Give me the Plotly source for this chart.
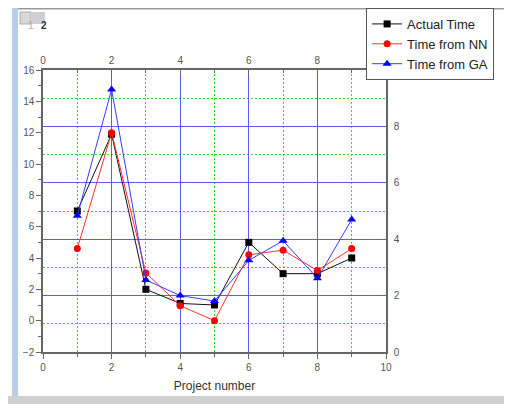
import plotly.graph_objects as go

projects = [1, 2, 3, 4, 5, 6, 7, 8, 9]
actual_time = [7.0, 11.9, 2.0, 1.1, 1.0, 5.0, 3.0, 3.0, 4.0]
time_nn = [4.6, 12.0, 3.05, 0.95, 0.0, 4.2, 4.5, 3.2, 4.6]
time_ga = [6.7, 14.75, 2.6, 1.6, 1.25, 3.85, 5.1, 2.7, 6.45]

FONT = "Liberation Sans, Arial, sans-serif"
AX = "#666666"
BLUE_GRID = "#5a5aff"
GREEN_GRID = "#22e022"
tickfont = dict(family=FONT, size=10, color="#555555")

fig = go.Figure()
fig.add_trace(go.Scatter(x=projects, y=actual_time, name="Actual Time", mode="lines+markers",
                         line=dict(color="#111111", width=1),
                         marker=dict(symbol="square", size=7, color="#000000")))
fig.add_trace(go.Scatter(x=projects, y=time_nn, name="Time from NN", mode="lines+markers",
                         line=dict(color="#ff3030", width=1),
                         marker=dict(symbol="circle", size=7, color="#ff0000")))
fig.add_trace(go.Scatter(x=projects, y=time_ga, name="Time from GA", mode="lines+markers",
                         line=dict(color="#3a3aff", width=1),
                         marker=dict(symbol="triangle-up", size=8, color="#0000ff")))
fig.add_trace(go.Scatter(x=[0], y=[0], xaxis="x2", yaxis="y2", mode="markers",
                         marker=dict(opacity=0), showlegend=False, hoverinfo="skip"))

odd = [1, 3, 5, 7, 9]
# page has an 8px body margin, so the figure is 504x396 offset by (8, 8)
fig.update_layout(
    width=504, height=396,
    margin=dict(l=35, r=126, t=62, b=52, autoexpand=False),
    paper_bgcolor="white", plot_bgcolor="white",
    font=dict(family=FONT, color="#333333"),
    xaxis=dict(range=[0, 10], tick0=0, dtick=2, ticks="outside", ticklen=5, tickcolor=AX,
               showline=True, linecolor=AX, linewidth=1.5, zeroline=False, automargin=False,
               showgrid=True, gridcolor=BLUE_GRID, gridwidth=1, tickfont=tickfont,
               minor=dict(tickmode="array", tickvals=odd, ticks="outside", ticklen=3,
                          tickcolor=AX, showgrid=True, gridcolor=GREEN_GRID,
                          griddash="2px,2px", gridwidth=1.3),
               title=dict(text="Project number", font=dict(family=FONT, size=12, color="#333333"),
                          standoff=10)),
    xaxis2=dict(range=[0, 10], tick0=0, dtick=2, overlaying="x", side="top", anchor="y",
                ticks="inside", ticklen=5, tickcolor=AX, showline=True, linecolor=AX,
                linewidth=1.5, showgrid=False, zeroline=False, tickfont=tickfont,
                automargin=False,
                minor=dict(tickmode="array", tickvals=odd, ticks="inside", ticklen=3,
                           tickcolor=AX)),
    yaxis=dict(range=[-2, 16], tick0=-2, dtick=2, ticks="outside", ticklen=5, tickcolor=AX,
               showline=True, linecolor=AX, linewidth=1.5, showgrid=False, zeroline=False,
               tickfont=tickfont, automargin=False,
               minor=dict(dtick=1, ticks="outside", ticklen=3, tickcolor=AX)),
    yaxis2=dict(range=[0, 10], tick0=0, dtick=2, overlaying="y", side="right", anchor="x",
                ticks="inside", ticklen=4, tickcolor=AX, showline=True, linecolor=AX,
                linewidth=1.5, zeroline=False, tickfont=tickfont, automargin=False,
                ticklabelstandoff=4,
                showgrid=True, gridcolor=BLUE_GRID, gridwidth=1,
                minor=dict(tickmode="array", tickvals=odd, showgrid=True,
                           gridcolor=GREEN_GRID, griddash="2px,2px", gridwidth=1.3)),
    legend=dict(x=0.942, y=1.22, xanchor="left", yanchor="top",
                bgcolor="white", bordercolor="#555555", borderwidth=1,
                font=dict(family=FONT, size=13, color="#222222"), tracegroupgap=0,
                itemwidth=30),
    showlegend=True,
)

# helpers: convert page pixel coords (reference image) to paper coords
def px_x(p):
    return (p - 43) / 343

def px_y(p):
    return (352 - p) / 282

shapes = [
    dict(type="line", x0=px_x(12), x1=px_x(512), y0=px_y(8.5), y1=px_y(8.5),
         line=dict(color="#999999", width=2)),
    dict(type="rect", x0=px_x(12), x1=px_x(18), y0=px_y(404), y1=px_y(8),
         line=dict(width=0), fillcolor="#b8cde6"),
    dict(type="rect", x0=px_x(8), x1=px_x(512), y0=px_y(404), y1=px_y(396),
         line=dict(width=0), fillcolor="#d0d0d0"),
    dict(type="rect", x0=px_x(20), x1=px_x(31), y0=px_y(24), y1=px_y(12),
         line=dict(color="#aaaaaa", width=1), fillcolor="#d8d8d8"),
    dict(type="rect", x0=px_x(32), x1=px_x(45), y0=px_y(24), y1=px_y(12),
         line=dict(width=0), fillcolor="#cfcfcf"),
]
for s in shapes:
    fig.add_shape(xref="paper", yref="paper", **s)
fig.add_annotation(text="1", xref="paper", yref="paper", x=px_x(25.5), y=px_y(18),
                   showarrow=False, font=dict(family=FONT, size=10, color="#aaaaaa"))
fig.add_annotation(text="<b>2</b>", xref="paper", yref="paper", x=px_x(38.5), y=px_y(18),
                   showarrow=False, font=dict(family=FONT, size=10, color="#333333"))

fig.write_html("out.html")
